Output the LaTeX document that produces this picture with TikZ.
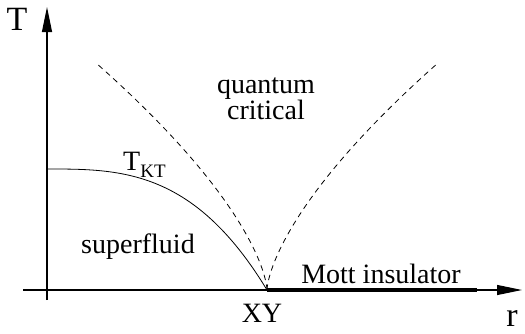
\documentclass[tikz,border=0pt]{standalone}
\usepackage{fontspec}
\setmainfont{Liberation Serif}
\usetikzlibrary{arrows.meta, positioning}

\begin{document}
\begin{tikzpicture}[x=1pt, y=1pt,
        axis/.style={draw, line width=1.1pt, -{Triangle[length=25pt, width=10pt]}},
        region/.style={font=\fontsize{28}{30}\selectfont, inner sep=0pt, anchor=base},
        axislabel/.style={font=\fontsize{34}{36}\selectfont, inner sep=0pt, anchor=base},
        crossover/.style={draw, line width=0.8pt, dash pattern=on 5.5pt off 4.5pt},
        phaseline/.style={draw, line width=0.8pt},
        mottline/.style={draw, line width=3.5pt}]
    \useasboundingbox (0,0) rectangle (525,333);

    % Axes
    \coordinate (ybottom) at (47,33);
    \coordinate (ytop) at (47,326);
    \coordinate (xleft) at (23,43);
    \coordinate (xright) at (522,43);
    \coordinate (qcp) at (267,43);
    \coordinate (mottend) at (477,43);
    \path [axis] (ybottom) -- (ytop);
    \path [axis] (xleft) -- (xright);

    % Phase boundary and crossover lines
    \path [phaseline] plot[domain=0:1, samples=80, smooth] ({47+220*\x}, {43+121*(1-\x*\x*\x)});
    \path [crossover] plot[domain=0:5.55, samples=80, smooth] ({267-\x*\x*\x}, {43+7.37*\x*\x});
    \path [crossover] plot[domain=0:5.54, samples=80, smooth] ({267+\x*\x*\x}, {43+7.37*\x*\x});
    \path [mottline] (qcp) -- (mottend);

    % Labels
    \node [axislabel] (tlabel) at (17,303) {T};
    \node [axislabel] (rlabel) at (512,7) {r};
    \node [region] (xy) at (262,11) {XY};
    \node [region] (mott) at (381,50) {Mott insulator};
    \node [region] (superfluid) at (138,80) {superfluid};
    \node [region] (quantum) at (266,240) {quantum};
    \node [region] (critical) at (266,214) {critical};
    \node [region, anchor=base west] (tkt) at (123,163) {T\raisebox{-7pt}{\fontsize{19}{19}\selectfont KT}};
\end{tikzpicture}
\end{document}
